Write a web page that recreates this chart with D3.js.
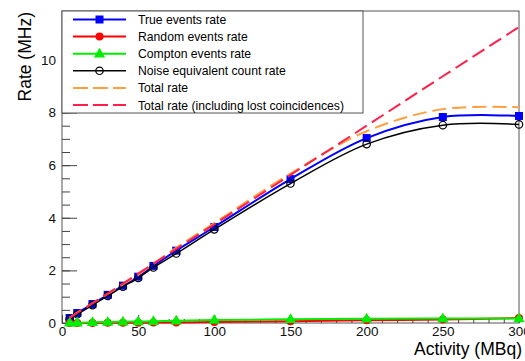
<!DOCTYPE html>
<html>
<head>
<meta charset="utf-8">
<script src="https://cdn.jsdelivr.net/npm/d3@7"></script>
<style>
  body { margin: 0; background: #fff; }
  text { font-family: "Liberation Sans", Arial, sans-serif; }
</style>
</head>
<body>
<div id="chart"></div>
<script>
const W = 525, H = 361
const MARGIN = {top: 11, right: 6, bot: 38, left: 62}

const activity = [5, 10, 20, 30, 40, 50, 60, 75, 100, 150, 200, 250, 300]
const trueRate = [0.19, 0.38, 0.72, 1.07, 1.42, 1.76, 2.17, 2.75, 3.65, 5.47, 7.03, 7.83, 7.87]
const randomRate = [0.0, 0.0, 0.003, 0.005, 0.008, 0.012, 0.016, 0.022, 0.035, 0.07, 0.1, 0.13, 0.19]
const comptonRate = [0.007, 0.013, 0.025, 0.037, 0.048, 0.058, 0.068, 0.085, 0.11, 0.14, 0.16, 0.17, 0.17]
const necRate = [0.15, 0.33, 0.68, 1.03, 1.38, 1.71, 2.11, 2.64, 3.56, 5.3, 6.8, 7.52, 7.55]
const totalRate = [0.2, 0.4, 0.75, 1.11, 1.47, 1.83, 2.25, 2.86, 3.8, 5.68, 7.29, 8.13, 8.2]
const totalLostRate = [0.19, 0.38, 0.75, 1.12, 1.5, 1.88, 2.25, 2.82, 3.75, 5.63, 7.5, 9.38, 11.25]

const xTicks = [0, 50, 100, 150, 200, 250, 300]
const yTicks = [0, 2, 4, 6, 8, 10]

const svg = d3.select("#chart").append("svg")
    .attr("width", W)
    .attr("height", H)

const x = d3.scaleLinear().domain([0, 300]).range([MARGIN.left, W - MARGIN.right])
const y = d3.scaleLinear().domain([0, 11.86]).range([H - MARGIN.bot, MARGIN.top])

// frame
svg.append("rect")
    .attr("x", x(0)).attr("y", y(11.86))
    .attr("width", x(300) - x(0)).attr("height", y(0) - y(11.86))
    .attr("fill", "none").attr("stroke", "#555").attr("stroke-width", 1)

// axes with inward ticks
const xMinor = d3.axisBottom(x).tickValues(d3.range(0, 301, 10)).tickSize(-4).tickFormat("")
const xMajor = d3.axisBottom(x).tickValues(xTicks).tickSize(-8).tickPadding(3)
const yMinor = d3.axisLeft(y).tickValues(d3.range(0, 11.86, 0.5)).tickSize(-8).tickFormat("")
const yMajor = d3.axisLeft(y).tickValues(yTicks).tickSize(-15).tickPadding(6)

function styleAxis(g) {
    g.select(".domain").remove()
    g.selectAll("line").attr("stroke", "#444")
    g.selectAll("text").attr("font-size", 13.5).attr("fill", "#111")
        .style("font-family", "'Liberation Sans', Arial, sans-serif")
}

svg.append("g").attr("transform", `translate(0, ${y(0)})`).call(xMinor).call(styleAxis)
svg.append("g").attr("transform", `translate(0, ${y(0)})`).call(xMajor).call(styleAxis)
svg.append("g").attr("transform", `translate(${x(0)}, 0)`).call(yMinor).call(styleAxis)
svg.append("g").attr("transform", `translate(${x(0)}, 0)`).call(yMajor).call(styleAxis)

// axis titles
svg.append("text")
    .attr("transform", `translate(31, 12) rotate(-90)`)
    .attr("text-anchor", "end")
    .attr("font-size", 17.5)
    .text("Rate (MHz)")

svg.append("text")
    .attr("x", 522).attr("y", 355)
    .attr("text-anchor", "end")
    .attr("font-size", 17.5)
    .text("Activity (MBq)")

const series = [
    {name: "True events rate", values: trueRate, color: "#0000ff", width: 2, marker: "square"},
    {name: "Random events rate", values: randomRate, color: "#ff0000", width: 2, marker: "circle"},
    {name: "Compton events rate", values: comptonRate, color: "#00ee00", width: 2, marker: "triangle"},
    {name: "Noise equivalent count rate", values: necRate, color: "#000000", width: 1.5, marker: "open"},
    {name: "Total rate", values: totalRate, color: "#ff9f40", width: 2, dash: "14,6"},
    {name: "Total rate (including lost coincidences)", values: totalLostRate, color: "#ff1f4b", width: 2, dash: "14,6"}
]

const line = d3.line()
    .x(d => x(d[0]))
    .y(d => y(d[1]))
    .curve(d3.curveCatmullRom)

function drawMarker(g, type, color, cx, cy) {
    if (type === "square") {
        g.append("rect").attr("x", cx - 4).attr("y", cy - 4).attr("width", 8).attr("height", 8).attr("fill", color)
    } else if (type === "circle") {
        g.append("circle").attr("cx", cx).attr("cy", cy).attr("r", 4).attr("fill", color)
    } else if (type === "triangle") {
        g.append("path").attr("d", d3.symbol(d3.symbolTriangle, 55)()).attr("transform", `translate(${cx},${cy + 0.5})`).attr("fill", color)
    } else if (type === "open") {
        g.append("circle").attr("cx", cx).attr("cy", cy).attr("r", 3.7).attr("fill", "none").attr("stroke", color).attr("stroke-width", 1.2)
    }
}

const drawOrder = [0, 3, 1, 2, 4, 5]
drawOrder.forEach(i => {
    const s = series[i]
    const pts = activity.map((a, j) => [a, s.values[j]])
    const g = svg.append("g")
    g.append("path")
        .attr("d", line(pts))
        .attr("fill", "none")
        .attr("stroke", s.color)
        .attr("stroke-width", s.width)
        .attr("stroke-dasharray", s.dash || null)
    if (s.marker) pts.forEach(p => drawMarker(g, s.marker, s.color, x(p[0]), y(p[1])))
})

// legend
const leg = svg.append("g")
leg.append("rect")
    .attr("x", x(0)).attr("y", y(11.86))
    .attr("width", 301).attr("height", 102)
    .attr("fill", "#fff").attr("stroke", "#555").attr("stroke-width", 1)

series.forEach((s, i) => {
    const cy = 19.5 + i * 17.1
    leg.append("line")
        .attr("x1", 73).attr("x2", 126).attr("y1", cy).attr("y2", cy)
        .attr("stroke", s.color).attr("stroke-width", s.width)
        .attr("stroke-dasharray", s.dash ? "15,5" : null)
    if (s.marker) drawMarker(leg, s.marker, s.color, 99.5, cy)
    leg.append("text")
        .attr("x", 138).attr("y", cy + 4.5)
        .attr("font-size", 12.2)
        .text(s.name)
})
</script>
</body>
</html>
